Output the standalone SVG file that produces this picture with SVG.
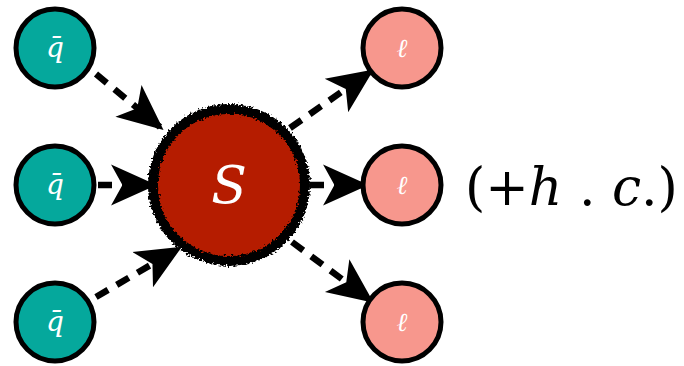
<svg xmlns="http://www.w3.org/2000/svg" width="684" height="366" viewBox="0 0 684 366">
<style>
.q{fill:#05A89C;stroke:#000;stroke-width:5}
.l{fill:#F7978D;stroke:#000;stroke-width:5}
.lbl{fill:#fff;font-family:"DejaVu Serif",serif;font-style:italic;text-anchor:middle}
.e{stroke:#000;stroke-width:6.5;stroke-dasharray:14 10;fill:none;marker-end:url(#ah)}
.hc{font-family:"DejaVu Serif",serif;font-size:52px;fill:#000}
</style>
<defs>
<marker id="ah" viewBox="0 0 10 10" refX="9" refY="5" markerWidth="7" markerHeight="7" markerUnits="strokeWidth" orient="auto">
<path d="M0,0.5 L10,5 L0,9.5 L2.5,5 z" fill="#000"/>
</marker>
<filter id="rough" x="-10%" y="-10%" width="120%" height="120%">
<feTurbulence type="fractalNoise" baseFrequency="0.5" numOctaves="2" seed="3" result="n"/>
<feDisplacementMap in="SourceGraphic" in2="n" scale="7" xChannelSelector="R" yChannelSelector="G"/>
</filter>
</defs>
<g id="edges">
<path class="e" d="M96,74 L160,127"/>
<path class="e" d="M98,185 L152,185"/>
<path class="e" d="M96,297 L178,249"/>
<path class="e" d="M290,128 L370,72"/>
<path class="e" d="M310,185 L364,185"/>
<path class="e" d="M292,242 L370,300"/>
</g>
<g id="S">
<circle cx="229" cy="185" r="76" fill="#B51C02" stroke="#000" stroke-width="10" filter="url(#rough)"/>
<text class="lbl" x="229" y="203" font-size="52">S</text>
</g>
<g id="qbar1"><circle class="q" cx="55" cy="48" r="39"/><text class="lbl" x="55" y="57" font-size="28">q̄</text></g>
<g id="qbar2"><circle class="q" cx="55" cy="185" r="39"/><text class="lbl" x="55" y="194" font-size="28">q̄</text></g>
<g id="qbar3"><circle class="q" cx="55" cy="322" r="39"/><text class="lbl" x="55" y="331" font-size="28">q̄</text></g>
<g id="ell1"><circle class="l" cx="402" cy="48" r="39"/><text class="lbl" x="402" y="57" font-size="26">ℓ</text></g>
<g id="ell2"><circle class="l" cx="402" cy="185" r="39"/><text class="lbl" x="402" y="194" font-size="26">ℓ</text></g>
<g id="ell3"><circle class="l" cx="402" cy="322" r="39"/><text class="lbl" x="402" y="331" font-size="26">ℓ</text></g>
<g id="hc"><text class="hc" x="465" y="205">(+<tspan font-style="italic">h</tspan> . <tspan font-style="italic">c</tspan>.)</text></g>
</svg>
